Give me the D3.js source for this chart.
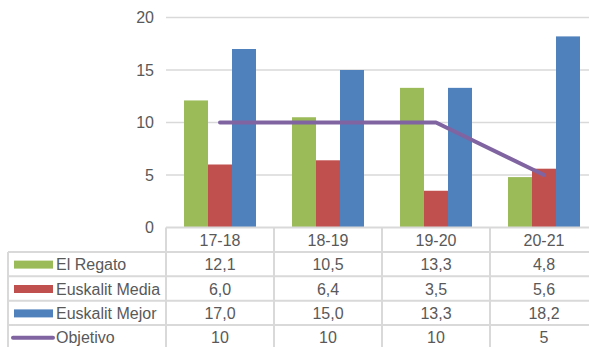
<!DOCTYPE html>
<html>
<head>
<meta charset="utf-8">
<script src="https://cdn.jsdelivr.net/npm/d3@7"></script>
<style>
  body { margin: 0; background: #fff; }
  svg { display: block; }
</style>
</head>
<body>
<div id="graph"></div>
<script>
const w = 589;
const h = 347;

const categories = ['17-18', '18-19', '19-20', '20-21'];
const elRegato = [12.1, 10.5, 13.3, 4.8];
const euskalitMedia = [6.0, 6.4, 3.5, 5.6];
const euskalitMejor = [17.0, 15.0, 13.3, 18.2];
const objetivo = [10, 10, 10, 5];
const yTicks = [0, 5, 10, 15, 20];

const barSeries = [
  {name: 'El Regato', values: elRegato, color: '#9bbb59'},
  {name: 'Euskalit Media', values: euskalitMedia, color: '#c0504d'},
  {name: 'Euskalit Mejor', values: euskalitMejor, color: '#4f81bd'}
];
const lineSeries = {name: 'Objetivo', values: objetivo, color: '#8064a2'};

const fmt = (v) => v.toFixed(1).replace('.', ',');

const plotLeft = 166;
const plotRight = 598;
const plotTop = 17.5;
const plotBottom = 227.5;
const tableLeft = 8;
const rowH = 24.4;
const textColor = '#595959';
const gridColor = '#d9d9d9';
const font = '"Liberation Sans", Arial, sans-serif';
const fontSize = '16px';

const xScale = d3.scaleBand()
                 .domain(categories)
                 .range([plotLeft, plotRight]);

const xInner = d3.scaleBand()
                 .domain(barSeries.map((s) => s.name))
                 .range([0, xScale.bandwidth()])
                 .paddingOuter(0.75);

const yScale = d3.scaleLinear()
                 .domain([0, 20])
                 .range([plotBottom, plotTop]);

const svg = d3.select('#graph')
              .append('svg')
              .attr('width', w)
              .attr('height', h);

// gridlines
svg.selectAll('.grid')
   .data(yTicks.slice(1))
   .enter()
   .append('line')
   .attr('x1', plotLeft)
   .attr('x2', plotRight)
   .attr('y1', (d) => yScale(d))
   .attr('y2', (d) => yScale(d))
   .attr('stroke', gridColor)
   .attr('stroke-width', 1.5);

// y labels
svg.selectAll('.ylab')
   .data(yTicks)
   .enter()
   .append('text')
   .attr('x', 154)
   .attr('y', (d) => yScale(d))
   .attr('dy', '0.35em')
   .attr('text-anchor', 'end')
   .style('font-family', font)
   .style('font-size', fontSize)
   .style('fill', textColor)
   .text((d) => d);

// bars
barSeries.forEach(function (s) {
  svg.selectAll('.bar-' + s.name)
     .data(s.values)
     .enter()
     .append('rect')
     .attr('x', (d, i) => xScale(categories[i]) + xInner(s.name))
     .attr('y', (d) => yScale(d))
     .attr('width', xInner.bandwidth())
     .attr('height', (d) => yScale(0) - yScale(d))
     .attr('fill', s.color);
});

// objetivo line
svg.append('path')
   .datum(lineSeries.values)
   .attr('fill', 'none')
   .attr('stroke', lineSeries.color)
   .attr('stroke-width', 4)
   .attr('stroke-linecap', 'round')
   .attr('stroke-linejoin', 'round')
   .attr('d', d3.line()
                .x((d, i) => xScale(categories[i]) + xScale.bandwidth() / 2)
                .y((d) => yScale(d)));

// data table
const rows = barSeries.concat([lineSeries]);
const tableBottom = plotBottom + rowH * (rows.length + 1);

// horizontal table lines
svg.append('line')
   .attr('x1', plotLeft).attr('x2', plotRight)
   .attr('y1', plotBottom).attr('y2', plotBottom)
   .attr('stroke', gridColor).attr('stroke-width', 2);

rows.forEach(function (r, i) {
  const y0 = plotBottom + rowH * (i + 1);
  svg.append('line')
     .attr('x1', tableLeft).attr('x2', plotRight)
     .attr('y1', y0).attr('y2', y0)
     .attr('stroke', gridColor).attr('stroke-width', 2);
});

// vertical table lines
svg.append('line')
   .attr('x1', tableLeft).attr('x2', tableLeft)
   .attr('y1', plotBottom + rowH).attr('y2', tableBottom)
   .attr('stroke', gridColor).attr('stroke-width', 2);

categories.concat(['end']).forEach(function (c, i) {
  const x0 = plotLeft + xScale.bandwidth() * i;
  svg.append('line')
     .attr('x1', x0).attr('x2', x0)
     .attr('y1', plotBottom).attr('y2', tableBottom)
     .attr('stroke', gridColor).attr('stroke-width', 2);
});

// header
svg.selectAll('.head')
   .data(categories)
   .enter()
   .append('text')
   .attr('x', (d) => xScale(d) + xScale.bandwidth() / 2)
   .attr('y', plotBottom + rowH / 2 + 1)
   .attr('dy', '0.35em')
   .attr('text-anchor', 'middle')
   .style('font-family', font)
   .style('font-size', fontSize)
   .style('fill', textColor)
   .text((d) => d);

rows.forEach(function (r, i) {
  const cy = plotBottom + rowH * (i + 1.5) + 0.5;
  if (r === lineSeries) {
    svg.append('line')
       .attr('x1', 13).attr('x2', 53)
       .attr('y1', cy).attr('y2', cy)
       .attr('stroke', r.color)
       .attr('stroke-width', 4)
       .attr('stroke-linecap', 'round');
  } else {
    svg.append('rect')
       .attr('x', 14).attr('y', cy - 4)
       .attr('width', 39).attr('height', 8)
       .attr('fill', r.color);
  }
  svg.append('text')
     .attr('x', 56)
     .attr('y', cy)
     .attr('dy', '0.35em')
     .style('font-family', font)
     .style('font-size', fontSize)
     .style('fill', textColor)
     .text(r.name);

  svg.selectAll('.cell' + i)
     .data(r.values)
     .enter()
     .append('text')
     .attr('x', (d, j) => xScale(categories[j]) + xScale.bandwidth() / 2)
     .attr('y', cy)
     .attr('dy', '0.35em')
     .attr('text-anchor', 'middle')
     .style('font-family', font)
     .style('font-size', fontSize)
     .style('fill', textColor)
     .text((d) => r === lineSeries ? d : fmt(d));
});
</script>
</body>
</html>
